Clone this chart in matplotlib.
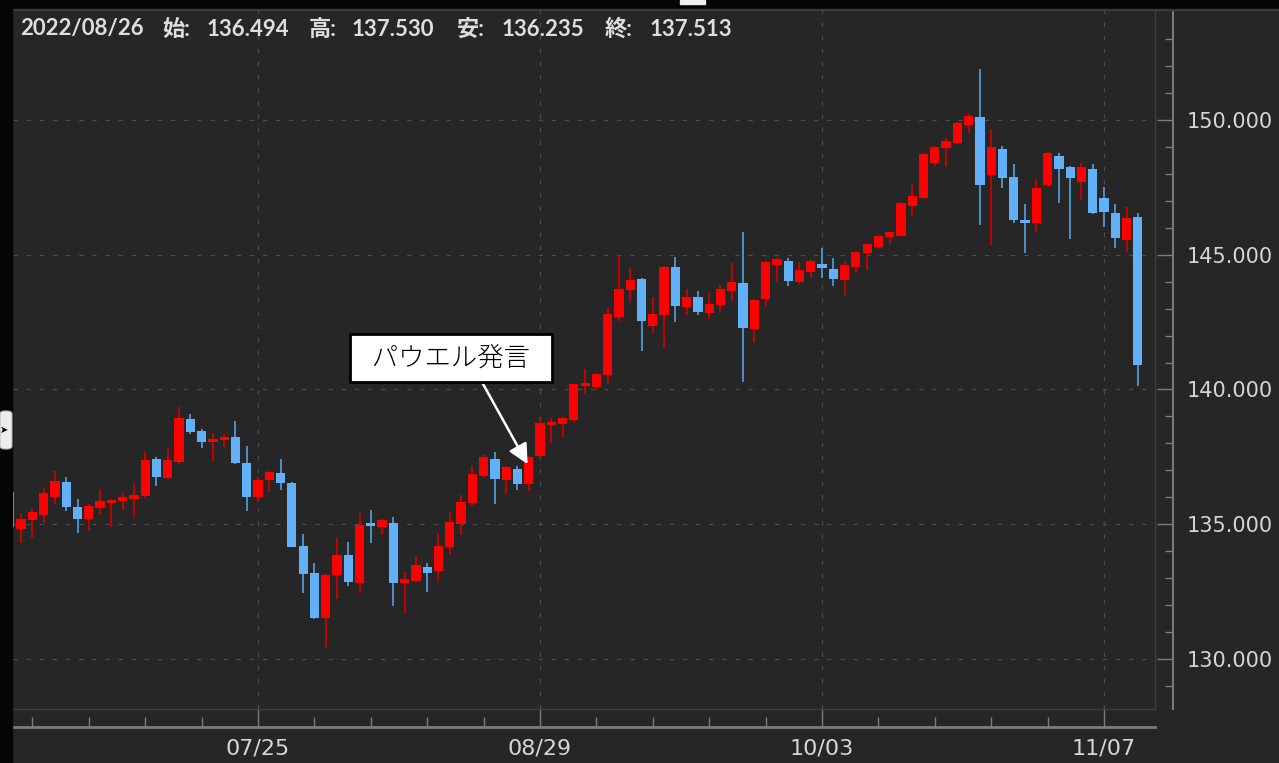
import matplotlib.pyplot as plt
import numpy as np
import pandas as pd
from matplotlib.patches import Rectangle, FancyBboxPatch

# USD/JPY daily candles, 2022-06-23 .. 2022-11-10 (weekdays)
dates = pd.bdate_range('2022-06-23', '2022-11-10')

opens = [136.20,
         134.82, 135.15, 135.35, 136.00, 136.55, 135.64, 135.18, 135.60, 135.78, 135.86,
         135.95, 136.05, 137.42, 136.70, 137.30, 138.91, 138.45, 138.05, 138.13, 138.24,
         137.27, 136.01, 136.64, 136.90, 136.53, 134.19, 133.19, 131.52, 133.12, 133.86,
         132.82, 135.05, 134.90, 135.05, 132.82, 132.90, 133.41, 133.27, 134.15, 135.00,
         135.80, 136.80, 137.42, 136.64, 137.05, 136.494, 137.52, 138.70, 138.72, 138.85,
         140.12, 140.10, 140.55, 142.70, 143.68, 144.10, 142.35, 142.75, 144.55, 143.06,
         143.43, 142.84, 143.15, 143.65, 143.95, 142.26, 143.36, 144.62, 144.75, 144.00,
         144.35, 144.66, 144.47, 144.05, 144.55, 145.07, 145.30, 145.66, 145.70, 146.80,
         147.10, 148.40, 148.95, 149.15, 149.80, 150.10, 147.96, 148.92, 147.88, 146.29,
         146.16, 147.59, 148.66, 148.26, 147.70, 148.18, 147.11, 146.55, 145.55, 146.40]
highs = [136.40,
         135.38, 135.55, 136.35, 136.98, 136.75, 135.94, 135.75, 136.31, 135.94, 136.16,
         136.53, 137.68, 137.50, 137.83, 139.35, 139.09, 138.55, 138.39, 138.35, 138.83,
         137.90, 136.75, 136.98, 137.42, 136.55, 134.64, 133.56, 133.14, 134.49, 134.34,
         135.42, 135.53, 135.18, 135.27, 133.23, 133.82, 133.56, 134.64, 135.45, 136.09,
         137.16, 137.57, 137.68, 137.16, 137.16, 137.530, 138.94, 138.94, 138.97, 140.22,
         140.76, 140.61, 143.02, 144.95, 144.51, 144.12, 143.43, 144.58, 144.92, 143.73,
         143.65, 143.58, 143.88, 144.69, 145.84, 143.34, 144.75, 144.88, 144.86, 144.73,
         144.79, 145.25, 144.88, 144.77, 145.12, 145.44, 145.72, 145.86, 146.94, 147.63,
         148.76, 149.02, 149.33, 149.91, 150.22, 151.90, 149.67, 149.04, 148.37, 146.88,
         147.81, 148.80, 148.78, 148.29, 148.40, 148.37, 147.51, 146.88, 146.77, 146.55]
lows = [134.70,
        134.30, 134.50, 135.05, 135.75, 135.49, 134.68, 134.75, 135.34, 134.90, 135.53,
        135.27, 135.97, 136.42, 136.64, 137.25, 138.35, 137.83, 137.35, 137.87, 137.22,
        135.49, 135.83, 136.20, 136.27, 134.14, 132.45, 131.50, 130.41, 132.23, 132.71,
        132.45, 134.30, 134.60, 131.97, 131.71, 132.84, 132.49, 132.89, 133.86, 134.60,
        135.68, 136.70, 135.75, 136.12, 136.27, 136.235, 137.45, 138.01, 138.24, 138.77,
        139.83, 140.02, 140.20, 142.54, 143.25, 141.43, 142.10, 141.54, 142.50, 142.76,
        142.76, 142.62, 142.88, 143.28, 140.28, 141.73, 143.10, 143.99, 143.84, 143.93,
        144.14, 144.14, 143.84, 143.47, 144.32, 144.43, 145.21, 145.40, 145.64, 146.44,
        147.05, 148.31, 148.26, 149.10, 149.52, 146.10, 145.36, 147.48, 146.18, 145.07,
        145.84, 147.52, 146.92, 145.58, 147.03, 146.50, 146.03, 145.25, 145.10, 140.13]
closes = [134.90,
          135.20, 135.45, 136.15, 136.60, 135.64, 135.20, 135.68, 135.86, 135.90, 136.01,
          136.09, 137.38, 136.75, 137.38, 138.94, 138.42, 138.05, 138.16, 138.24, 137.27,
          136.01, 136.64, 136.94, 136.53, 134.16, 133.15, 131.52, 133.12, 133.86, 132.86,
          134.97, 134.94, 135.16, 132.82, 132.97, 133.49, 133.19, 134.19, 135.08, 135.83,
          136.86, 137.50, 136.68, 137.12, 136.49, 137.513, 138.76, 138.79, 138.94, 140.20,
          140.24, 140.58, 142.80, 143.73, 144.06, 142.54, 142.80, 144.55, 143.10, 143.43,
          142.88, 143.17, 143.73, 143.99, 142.28, 143.32, 144.73, 144.84, 144.03, 144.43,
          144.77, 144.51, 144.10, 144.62, 145.10, 145.40, 145.70, 145.84, 146.92, 147.18,
          148.74, 149.00, 149.22, 149.89, 150.15, 147.59, 149.00, 147.85, 146.29, 146.18,
          147.48, 148.78, 148.18, 147.85, 148.26, 146.55, 146.59, 145.62, 146.36, 140.91]

label_dates = ['2022-07-25', '2022-08-29', '2022-10-03', '2022-11-07']
y_labels = [130, 135, 140, 145, 150]
info_day = '2022-08-26'
note_text = 'パウエル発言'

W, H = 1279, 763
BG = '#262626'
UP, UP_WICK = '#ff0000', '#d00000'
DOWN, DOWN_WICK = '#62b1f8', '#4f98d6'

o = np.array(opens)
h = np.array(highs)
l = np.array(lows)
c = np.array(closes)
x = np.arange(len(dates))
up = c >= o
cols = np.where(up, UP, DOWN)
wick_cols = np.where(up, UP_WICK, DOWN_WICK)

fig = plt.figure(figsize=(W / 100, H / 100), dpi=100, facecolor=BG)
ax = fig.add_axes([13 / W, (H - 709) / H, (1155 - 13) / W, (709 - 10) / H])
ax.set_facecolor(BG)

ax.vlines(x, l, h, colors=wick_cols, lw=1.3, zorder=3)
body_low = np.minimum(o, c)
body_h = np.maximum(np.abs(c - o), 0.09)
ax.bar(x, body_h, bottom=body_low, width=0.82, color=cols, lw=0, zorder=4)

ax.set_xlim(0.28, 101.52)
ax.set_ylim(128.145, 154.08)

# ticks
pos = {d: i for i, d in enumerate(dates)}
mondays = [i for i, d in enumerate(dates) if d.weekday() == 0]
major_x = [pos[pd.Timestamp(d)] for d in label_dates]
ax.set_xticks(major_x)
ax.set_xticklabels([pd.Timestamp(d).strftime('%m/%d') for d in label_dates])
ax.set_xticks(mondays, minor=True)
ax.set_yticks(y_labels)
ax.set_yticklabels([f'{v:.3f}' for v in y_labels])
ax.set_yticks(np.arange(129, 154, 1), minor=True)
ax.yaxis.tick_right()

for s in ['top', 'left']:
    ax.spines[s].set_visible(False)
ax.spines['right'].set_position(('outward', 13))
ax.spines['bottom'].set_position(('outward', 13))
ax.spines['right'].set_color('#7c7c7c')
ax.spines['bottom'].set_color('#7c7c7c')
ax.spines['right'].set_linewidth(1.4)
ax.spines['bottom'].set_linewidth(2)

ax.tick_params(axis='y', which='major', direction='in', length=11.5, width=1,
               color='#7c7c7c', labelcolor='#d6d6d6', labelsize=15, pad=10)
ax.tick_params(axis='y', which='minor', direction='in', length=5.8, width=1,
               color='#7c7c7c')
ax.tick_params(axis='x', which='major', direction='in', length=13.7, width=1,
               color='#7c7c7c', labelcolor='#d6d6d6', labelsize=16, pad=8)
ax.tick_params(axis='x', which='minor', direction='in', length=7.2, width=1,
               color='#7c7c7c')

ax.grid(which='major', color='#4c4c4c', linestyle=(0, (3.5, 7)), lw=0.9, zorder=0)

# plot frame on right and bottom
ax.plot([1, 1], [0, 1], transform=ax.transAxes, color='#3e3e3e', lw=1, clip_on=False)
ax.plot([0, 1], [0, 0], transform=ax.transAxes, color='#3e3e3e', lw=1, clip_on=False)

# annotation
k = pos[pd.Timestamp(info_day)]
ax.annotate('  ' + note_text + '  ', xy=(k - 0.1, h[k] - 0.3), xytext=(39.1, 141.17),
            ha='center', va='center', fontsize=19, color='black', fontweight='light',
            family=['Noto Sans CJK JP', 'DejaVu Sans'],
            bbox=dict(boxstyle='square,pad=0.38', fc='white', ec='black', lw=2),
            arrowprops=dict(arrowstyle='-|>,head_length=0.6,head_width=0.3',
                            mutation_scale=20, color='white', lw=1.8,
                            relpos=(0.64, 0), shrinkA=0, shrinkB=0),
            zorder=6)

# OHLC header
hdr_fam = ['Lato', 'Noto Sans CJK JP']
hy = 1 - 29 / H
parts = [(20, pd.Timestamp(info_day).strftime('%Y/%m/%d')),
         (162, '始:'), (207, f'{o[k]:.3f}'),
         (309, '高:'), (352, f'{h[k]:.3f}'),
         (457, '安:'), (502, f'{l[k]:.3f}'),
         (605, '終:'), (650, f'{c[k]:.3f}')]
for px, s in parts:
    fig.text(px / W, hy, s, color='#dedede', fontsize=16, fontweight='bold',
             family=hdr_fam, va='center', ha='left')

# window chrome
fig.patches.append(Rectangle((0, 1 - 9 / H), 1, 9 / H, transform=fig.transFigure,
                             color='#050505', zorder=10))
fig.patches.append(Rectangle((0, 1 - 10 / H), 1, 1 / H, transform=fig.transFigure,
                             color='#3a3a3a', zorder=10))
fig.patches.append(Rectangle((0, 0), 12 / W, 1, transform=fig.transFigure,
                             color='#050505', zorder=10))
fig.patches.append(Rectangle((680 / W, 1 - 4 / H), 25 / W, 4 / H,
                             transform=fig.transFigure, color='#f0f0f0', zorder=11))
fig.patches.append(FancyBboxPatch((0, 1 - 449 / H), 12 / W, 38 / H,
                                  boxstyle='round,pad=0,rounding_size=0.004',
                                  transform=fig.transFigure, fc='#ececec',
                                  ec='#bdbdbd', lw=0.8, zorder=11))
fig.text(4 / W, 1 - 430 / H, '➤', fontsize=7, color='black', ha='center',
         va='center', family='DejaVu Sans', zorder=12)

fig.savefig('out.png', dpi=100, facecolor=BG)
